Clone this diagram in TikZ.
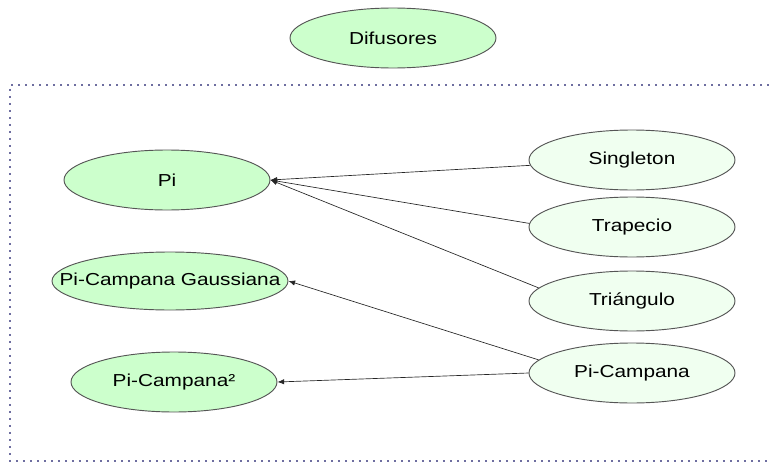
\documentclass[tikz,border=0pt]{standalone}
\usepackage{fontspec}
\setmainfont{Liberation Sans}
\newfontfamily\labfont[FakeStretch=1.2]{Liberation Sans}
\usetikzlibrary{shapes.geometric,arrows.meta}
\definecolor{leftfill}{HTML}{CCFFCC}
\definecolor{rightfill}{HTML}{F0FFF0}
\definecolor{edgegray}{HTML}{555555}
\definecolor{dotcol}{HTML}{6E6EA0}
\newcommand{\zw}[1]{\makebox[0pt]{#1}}
\begin{document}
\begin{tikzpicture}[x=0.75pt,y=-0.75pt,
  oval/.style={ellipse,draw=edgegray,line width=0.7pt,inner sep=0pt,
    minimum width=154.5pt,minimum height=45pt,
    font=\labfont\fontsize{13pt}{15pt}\selectfont},
  leftoval/.style={oval,fill=leftfill},
  rightoval/.style={oval,fill=rightfill},
  link/.style={draw=black!85,line width=0.5pt,-{Latex[length=5pt,width=4pt]}},
  frame/.style={draw=dotcol,line width=1.6pt,dash pattern=on 1.6pt off 3.65pt}]
\useasboundingbox (0,0) rectangle (769,464);
\draw[frame] (769,85) -- (10,85) -- (10,461) -- (769,461);
\node[leftoval] (dif) at (393,38) {\zw{Difusores}};
\node[leftoval] (pi) at (167,180) {\zw{Pi}};
\node[leftoval,minimum width=177pt,minimum height=43.5pt] (gau) at (170,281) {\zw{Pi-Campana Gaussiana}};
\node[leftoval] (pc2) at (174,382) {\zw{Pi-Campana²}};
\node[rightoval] (sin) at (632,160) {\zw{Singleton}};
\node[rightoval] (tra) at (632,227) {\zw{Trapecio}};
\node[rightoval] (tri) at (632,301) {\zw{Triángulo}};
\node[rightoval] (pcm) at (632,373) {\zw{Pi-Campana}};
\draw[link] (sin.183) -- (pi.east);
\draw[link] (tra.178) -- (pi.east);
\draw[link] (tri.172) -- (pi.east);
\draw[link] (pcm.172) -- (gau.east);
\draw[link] (pcm.180) -- (pc2.east);
\end{tikzpicture}
\end{document}
